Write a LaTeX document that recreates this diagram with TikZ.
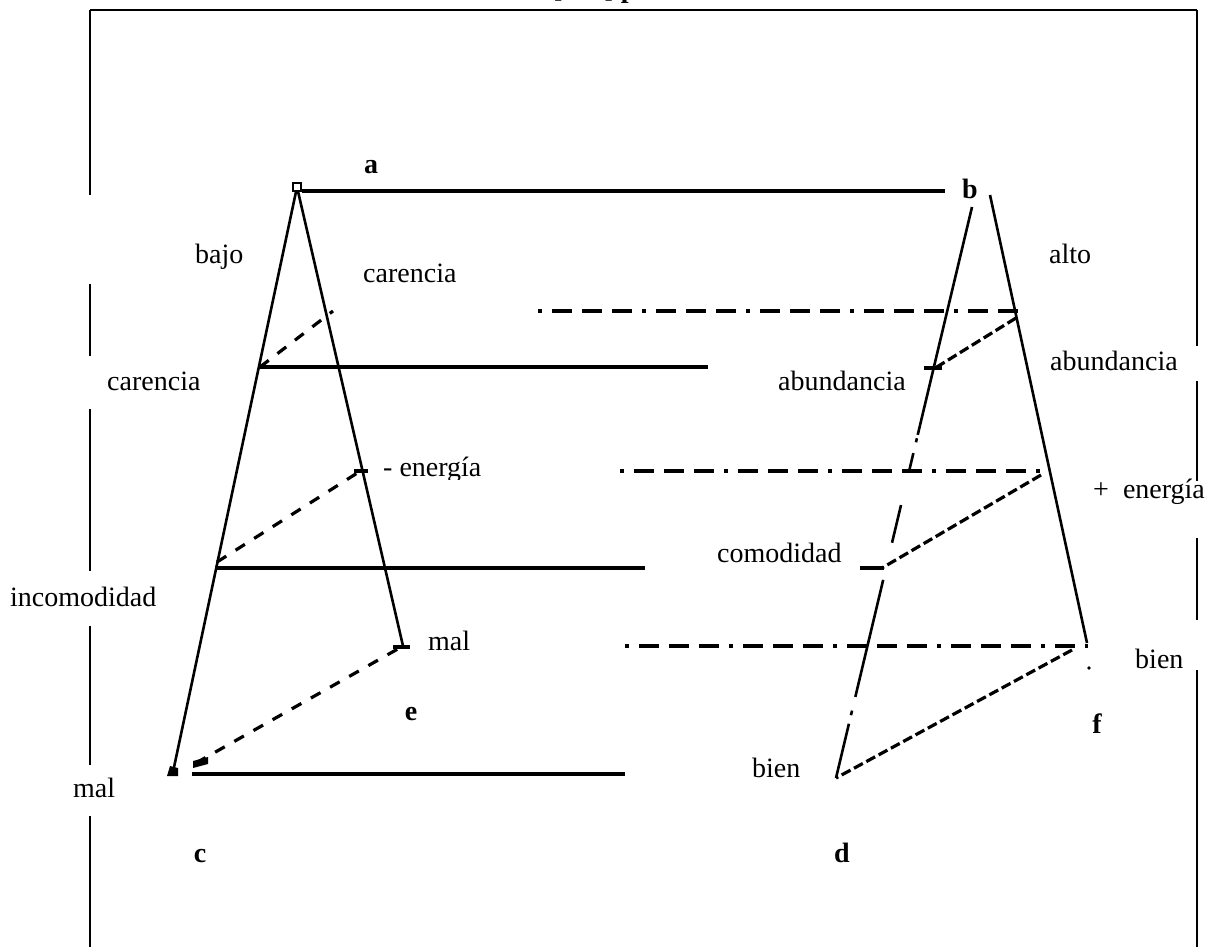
\documentclass[tikz,border=0pt]{standalone}
\usepackage{fontspec}
\setmainfont{Liberation Serif}
\usetikzlibrary{calc}
\begin{document}
\begin{tikzpicture}[x=1pt,y=-1pt,
  lbl/.style={anchor=base west,inner sep=0pt,font=\fontsize{28}{32}\selectfont},
  blbl/.style={anchor=base,inner sep=0pt,font=\fontsize{28}{32}\selectfont\bfseries},
  framel/.style={line width=2pt},
  edgel/.style={line width=2.6pt},
  thickbar/.style={line width=4.6pt},
  dashl/.style={line width=3.2pt,dash pattern=on 11pt off 11pt},
  dashr/.style={line width=3.2pt,dash pattern=on 10pt off 4pt},
  dashdot/.style={line width=3.6pt,dash pattern=on 4pt off 10pt on 20pt off 10pt on 20pt off 10pt on 20pt off 10pt},
  tickl/.style={line width=4pt}
]
\useasboundingbox (0,0) rectangle (1212,947);
% clipped heading
\node[anchor=base west,inner sep=0pt,font=\fontsize{28}{32}\selectfont\bfseries] (ttl) at (553,-2) {[ \ldots\ ] p};
% frame
\coordinate (tl) at (90,10);
\coordinate (tr) at (1197,10);
\draw[framel] (tl) -- (tr);
\foreach \ya/\yb in {10/195,284/356,409/571,626/765,816/947}
  \draw[framel] (90,\ya) -- (90,\yb);
\foreach \ya/\yb in {10/346,381/481,538/620,670/947}
  \draw[framel] (1197,\ya) -- (1197,\yb);
% left triangle
\coordinate (a) at (297,187);
\coordinate (c) at (173,772);
\coordinate (e) at (403,646);
\draw[edgel] (a) -- (c);
\draw[edgel] (a) -- (e);
\node[draw,line width=1.8pt,minimum size=8pt,inner sep=0pt,fill=white] (asq) at (a) {};
\coordinate (h1l) at (302,191); \coordinate (h1r) at (945,191);
\coordinate (h2l) at (258,367); \coordinate (h2r) at (708,367);
\coordinate (h3l) at (215,568); \coordinate (h3r) at (645,568);
\coordinate (h4l) at (192,774); \coordinate (h4r) at (625,774);
\draw[thickbar] (h1l) -- (h1r);
\draw[thickbar] (h2l) -- (h2r);
\draw[thickbar] (h3l) -- (h3r);
\draw[thickbar] (h4l) -- (h4r);
\coordinate (l1s) at (260,367); \coordinate (l1e) at (333,311);
\coordinate (l2s) at (217,562); \coordinate (l2e) at (362,470);
\coordinate (l3s) at (196,763); \coordinate (l3e) at (403,646);
\draw[dashl] (l1s) -- (l1e);
\draw[dashl] (l2s) -- (l2e);
\draw[dashl] (l3s) -- (l3e);
\coordinate (t1a) at (354,471); \coordinate (t1b) at (368,471);
\coordinate (t2a) at (393,647); \coordinate (t2b) at (410,647);
\draw[tickl] (t1a) -- (t1b);
\draw[tickl] (t2a) -- (t2b);
\fill (167,776) -- (170,766) -- (178,768) -- (178,776) -- cycle;
\fill (193,768) -- (193,761) -- (208,757) -- (208,764) -- cycle;
% right triangle
\coordinate (bl) at (972,207);
\coordinate (d) at (836,778);
\coordinate (br) at (990,195);
\coordinate (f) at (1087,643);
\draw[edgel] (br) -- (f);
\foreach \ta/\tb in {0/0.399,0.405/0.412,0.431/0.464,0.522/0.588,0.653/0.858,0.882/0.89,0.905/1}
  \draw[edgel] ($(bl)!\ta!(d)$) -- ($(bl)!\tb!(d)$);
\coordinate (p1s) at (538,311); \coordinate (p1e) at (1018,311);
\coordinate (p2s) at (620,471); \coordinate (p2e) at (1046,471);
\coordinate (p3s) at (625,646); \coordinate (p3e) at (1088,646);
\draw[dashdot] (p1s) -- (p1e);
\draw[dashdot] (p2s) -- (p2e);
\draw[dashdot] (p3s) -- (p3e);
\coordinate (q1s) at (1016,318); \coordinate (q1e) at (932,370);
\coordinate (q2s) at (1041,475); \coordinate (q2e) at (882,568);
\coordinate (q3s) at (1072,650);
\draw[dashr] (q1s) -- (q1e);
\draw[dashr] (q2s) -- (q2e);
\draw[dashr] (q3s) -- (d);
\coordinate (u1a) at (924,368); \coordinate (u1b) at (942,368);
\coordinate (u2a) at (860,568); \coordinate (u2b) at (884,568);
\draw[tickl] (u1a) -- (u1b);
\draw[tickl] (u2a) -- (u2b);
\fill (1089,668) circle (1.8pt);
% labels
\node[lbl] (lbajo) at (195,263) {bajo};
\node[lbl] (lcar1) at (363,282) {carencia};
\node[lbl] (lalto) at (1049,263) {alto};
\node[lbl] (lcar2) at (107,390) {carencia};
\node[lbl] (labu1) at (778,390) {abundancia};
\node[lbl] (labu2) at (1050,370) {abundancia};
\begin{scope}
\clip (370,440) rectangle (520,479);
\node[lbl] (lmen) at (383,476) {- energía};
\end{scope}
\node[lbl] (lmas) at (1093,498) {+ \ energía};
\node[lbl] (lcom) at (717,562) {comodidad};
\node[lbl] (linc) at (10,606) {incomodidad};
\node[lbl] (lmal1) at (428,650) {mal};
\node[lbl] (lbien1) at (1135,668) {bien};
\node[lbl] (lbien2) at (752,777) {bien};
\node[lbl] (lmal2) at (73,797) {mal};
\node[blbl] (na) at (371,173) {a};
\node[blbl] (nb) at (970,198) {b};
\node[blbl] (ne) at (411,720) {e};
\node[blbl] (nf) at (1097,733) {f};
\node[blbl] (nc) at (200,862) {c};
\node[blbl] (nd) at (842,862) {d};
\end{tikzpicture}
\end{document}
